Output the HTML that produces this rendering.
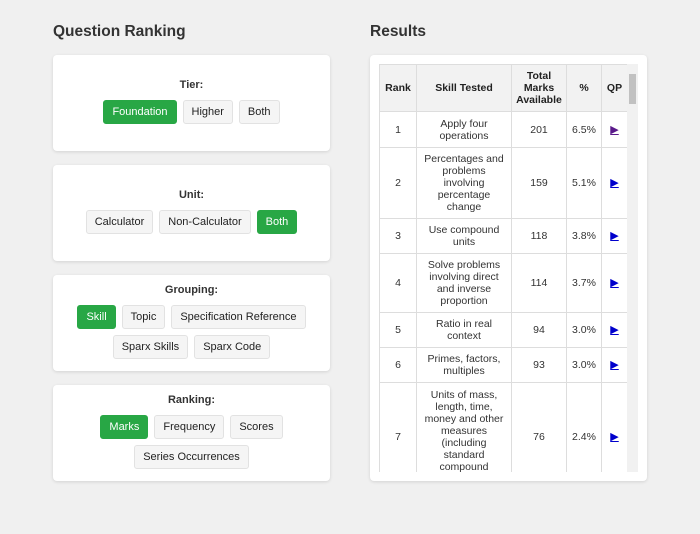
<!DOCTYPE html>
<html><head><style>
*{box-sizing:border-box;margin:0;padding:0}
body{width:700px;height:534px;background:#f0f0f0;font-family:"Liberation Sans",Arial,sans-serif;color:#222;position:relative;overflow:hidden}
h2{position:absolute;font-size:15.5px;font-weight:bold;color:#333;top:23px}
.card{position:absolute;left:53px;width:277px;height:96px;background:#fff;border-radius:4px;box-shadow:0 1px 3px rgba(0,0,0,.12);display:flex;flex-direction:column;justify-content:center;align-items:center}
.lbl{font-size:11px;font-weight:bold;color:#333;margin-bottom:6px}
.row{display:flex;gap:6px;justify-content:center;margin:3px 0}
.b{height:24px;line-height:22px;padding:0 8px;font-size:11px;background:#f5f5f5;border:1px solid #e2e2e2;border-radius:3px;color:#222}
.b.on{background:#28a745;border-color:#28a745;color:#fff}
.res{position:absolute;left:370px;top:55px;width:277px;height:426px;background:#fff;border-radius:4px;box-shadow:0 1px 3px rgba(0,0,0,.12)}
.tw{position:absolute;left:9px;top:9px;width:248px;height:408px;overflow:hidden}
table{border-collapse:collapse;width:248px;font-size:10.5px;table-layout:fixed;color:#333}
td,th{border:1px solid #ddd;text-align:center;vertical-align:middle;line-height:12px;padding:0 4px}
th{background:#f2f2f2;font-weight:bold;height:47px;color:#222}
.q{color:#00c;text-decoration:underline;font-size:11px}
.sb{position:absolute;left:257px;top:9px;width:11px;height:408px;background:#f1f1f1}
.th{position:absolute;left:2px;top:10px;width:7px;height:30px;background:#c1c1c1}
</style></head><body>
<h2 style="left:53px">Question Ranking</h2>
<h2 style="left:370px">Results</h2>
<div class="card" style="top:55px"><div class="lbl">Tier:</div><div class="row"><span class="b on">Foundation</span><span class="b">Higher</span><span class="b">Both</span></div></div>
<div class="card" style="top:165px"><div class="lbl">Unit:</div><div class="row"><span class="b">Calculator</span><span class="b">Non-Calculator</span><span class="b on">Both</span></div></div>
<div class="card" style="top:275px"><div class="lbl">Grouping:</div><div class="row"><span class="b on">Skill</span><span class="b">Topic</span><span class="b">Specification Reference</span></div><div class="row"><span class="b">Sparx Skills</span><span class="b">Sparx Code</span></div></div>
<div class="card" style="top:385px"><div class="lbl">Ranking:</div><div class="row"><span class="b on">Marks</span><span class="b">Frequency</span><span class="b">Scores</span></div><div class="row"><span class="b">Series Occurrences</span></div></div>
<div class="res"><div class="tw"><table>
<colgroup><col style="width:37px"><col style="width:95px"><col style="width:55px"><col style="width:35px"><col style="width:26px"></colgroup>
<tr><th>Rank</th><th>Skill Tested</th><th>Total Marks Available</th><th>%</th><th>QP</th></tr>
<tr style="height:36px"><td>1</td><td>Apply four operations</td><td>201</td><td>6.5%</td><td><span class="q" style="color:#5a1a8a">&#9654;</span></td></tr>
<tr style="height:71px"><td>2</td><td>Percentages and problems involving percentage change</td><td>159</td><td>5.1%</td><td><span class="q">&#9654;</span></td></tr>
<tr style="height:35px"><td>3</td><td>Use compound units</td><td>118</td><td>3.8%</td><td><span class="q">&#9654;</span></td></tr>
<tr style="height:59px"><td>4</td><td>Solve problems involving direct and inverse proportion</td><td>114</td><td>3.7%</td><td><span class="q">&#9654;</span></td></tr>
<tr style="height:35px"><td>5</td><td>Ratio in real context</td><td>94</td><td>3.0%</td><td><span class="q">&#9654;</span></td></tr>
<tr style="height:35px"><td>6</td><td>Primes, factors, multiples</td><td>93</td><td>3.0%</td><td><span class="q">&#9654;</span></td></tr>
<tr style="height:108px"><td>7</td><td>Units of mass, length, time, money and other measures (including standard compound measures)</td><td>76</td><td>2.4%</td><td><span class="q">&#9654;</span></td></tr>
</table></div><div class="sb"><div class="th"></div></div></div>
</body></html>
